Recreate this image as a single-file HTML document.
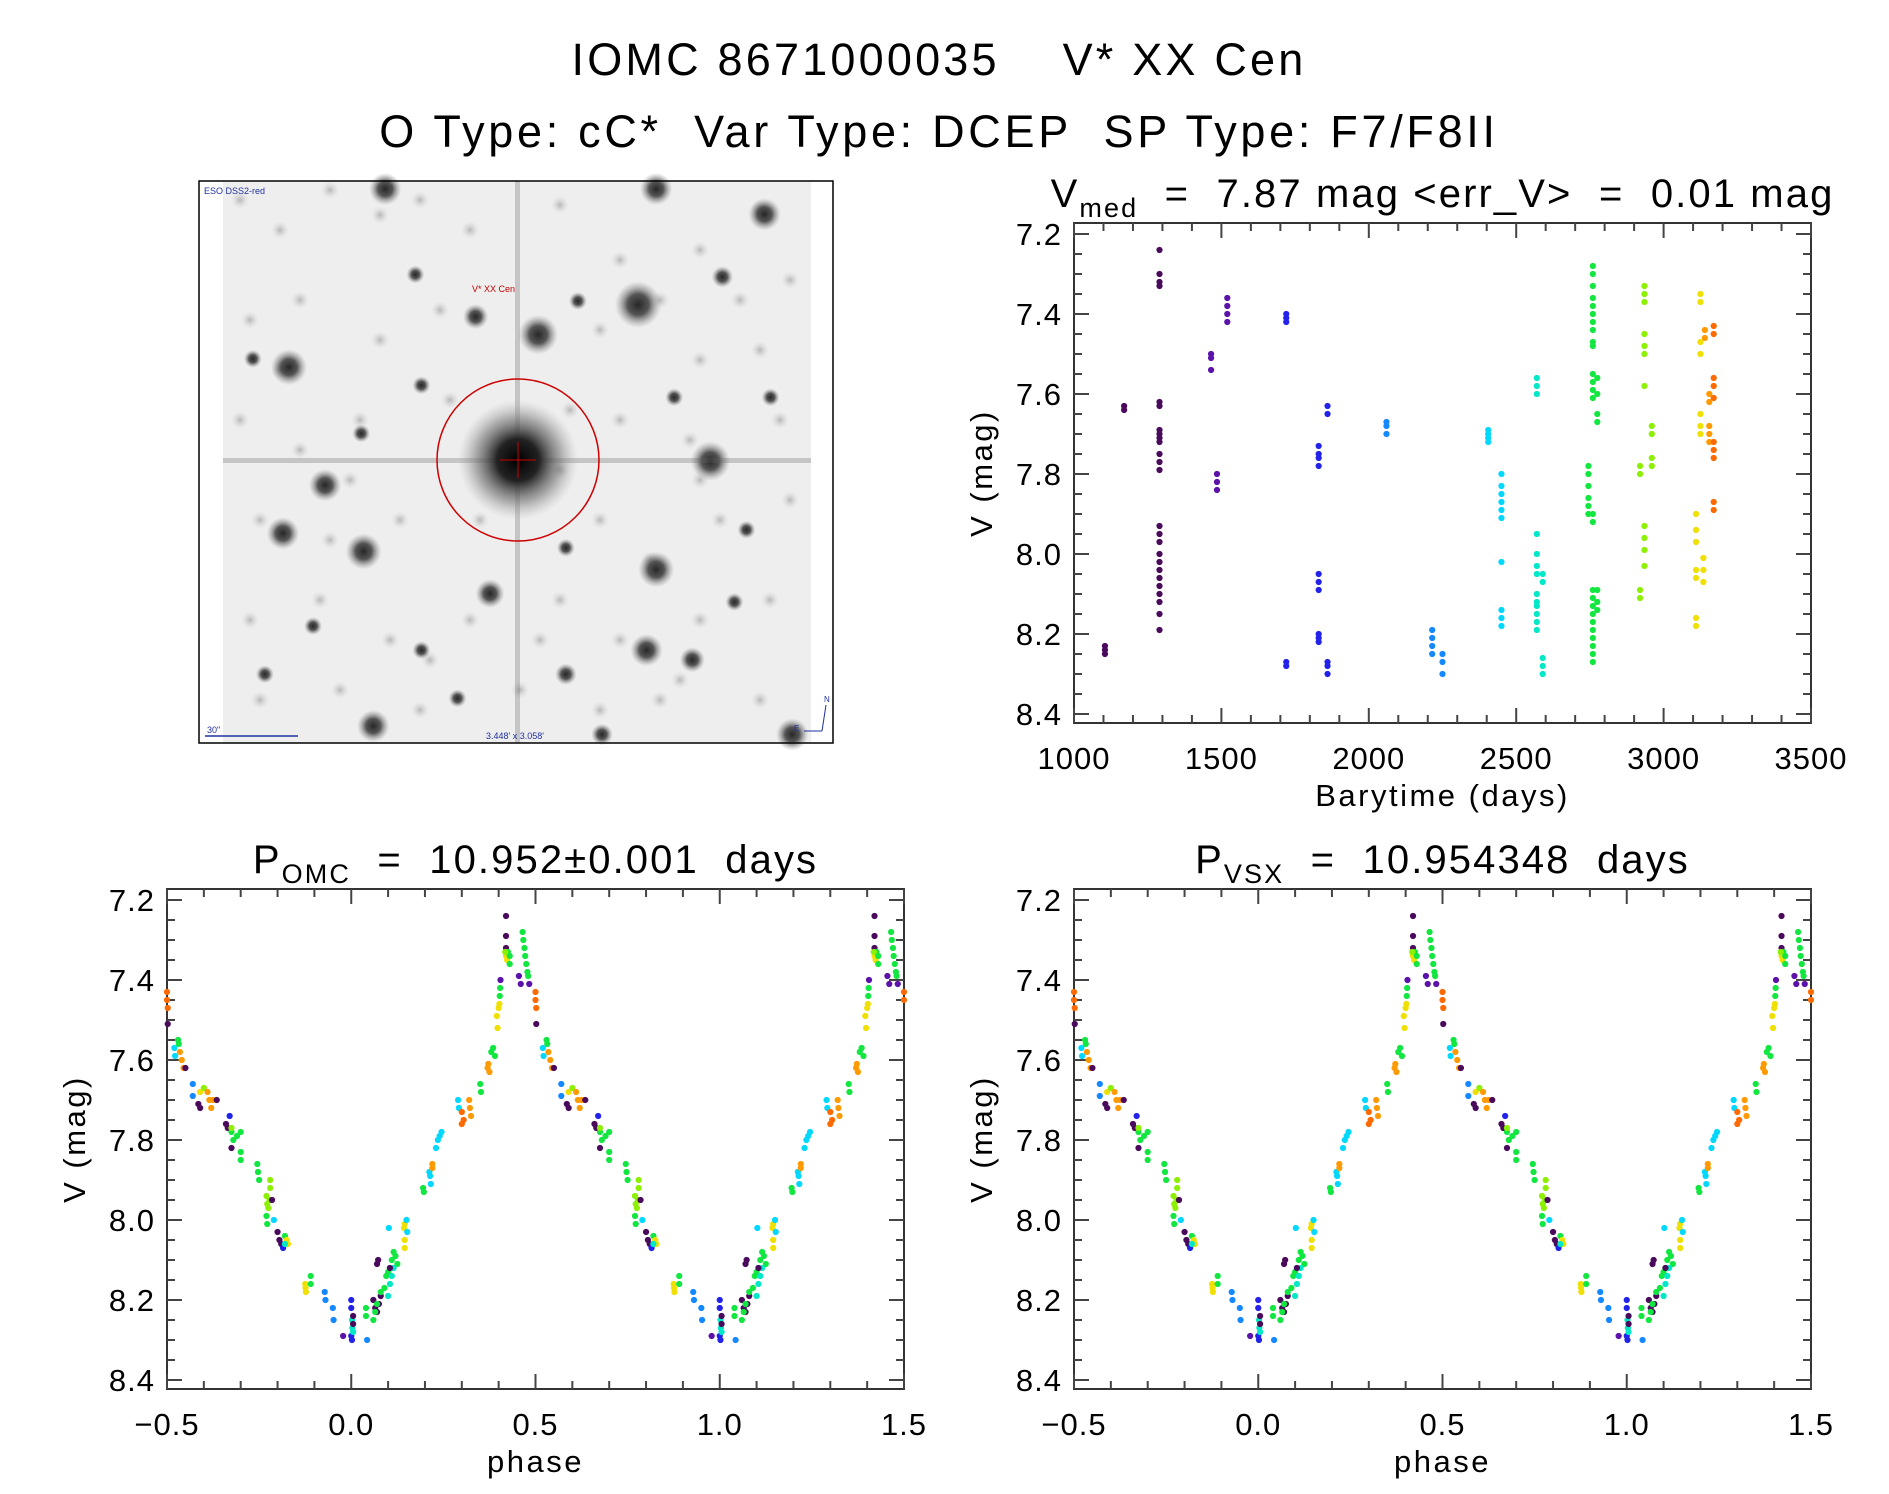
<!DOCTYPE html>
<html><head><meta charset="utf-8">
<style>
html,body{margin:0;padding:0;background:#fff;}
svg{display:block;font-family:"Liberation Sans","DejaVu Sans",sans-serif;}
</style></head>
<body>
<svg id="fig" width="1889" height="1494" viewBox="0 0 1889 1494" xmlns="http://www.w3.org/2000/svg">
<defs>
<radialGradient id="star" cx="50%" cy="50%" r="50%">
<stop offset="0" stop-color="#111"/><stop offset="0.45" stop-color="#444"/><stop offset="1" stop-color="#999" stop-opacity="0"/>
</radialGradient>
<radialGradient id="faint" cx="50%" cy="50%" r="50%">
<stop offset="0" stop-color="#888"/><stop offset="1" stop-color="#ccc" stop-opacity="0"/>
</radialGradient>
<radialGradient id="bigstar" cx="50%" cy="50%" r="50%">
<stop offset="0" stop-color="#000"/><stop offset="0.35" stop-color="#222"/><stop offset="0.7" stop-color="#777" stop-opacity="0.6"/><stop offset="1" stop-color="#aaa" stop-opacity="0"/>
</radialGradient>
</defs>
<text x="939" y="75" font-size="45" letter-spacing="3.2" text-anchor="middle" xml:space="preserve">IOMC 8671000035    V* XX Cen</text>
<text x="939" y="147" font-size="45" letter-spacing="3.7" text-anchor="middle" xml:space="preserve">O Type: cC*  Var Type: DCEP  SP Type: F7/F8II</text>
<g id="img"></g>
<g id="p1"></g>
<g id="p2"></g>
<g id="p3"></g>
</svg>
<script>
// ---- time series data ----
const obsTime = [1105,1105,1105,1170,1170,
1290,1290,1290,1290,1290,1290,1290,1290,1290,1290,1290,1290,1290,1290,1290,1290,1290,1290,1290,1290,1290,1290,1290,1290,1290,
1465,1465,1465,1485,1485,1485,1520,1520,1520,1520,
1720,1720,1720,1720,1720,
1830,1830,1830,1830,1830,1830,1830,1830,1830,1830,1860,1860,1860,1860,1860,
2060,2060,2060,2215,2215,2215,2215,2250,2250,2250,
2405,2405,2405,2405,
2450,2450,2450,2450,2450,2450,2450,2450,2450,2450,
2570,2570,2570,2570,2570,2570,2570,2570,2570,2570,2570,2570,2570,
2590,2590,2590,2590,2590,
2745,2745,2745,2745,2745,2745,
2760,2760,2760,2760,2760,2760,2760,2760,2760,2760,2760,2760,2760,2760,2760,2760,2760,2760,2760,2760,2760,2760,2760,2760,2760,2760,
2775,2775,2775,2775,2775,2775,2775,
2920,2920,2920,2920,
2935,2935,2935,2935,2935,2935,2935,2935,2935,2935,2935,
2960,2960,2960,2960,
3110,3110,3110,3110,3110,3110,3110,
3125,3125,3125,3125,3125,3125,3125,3135,3135,3135,3140,3140,
3155,3155,3155,3155,3155,
3170,3170,3170,3170,3170,3170,3170,3170,3170,3170];
const obsMag = [8.23,8.24,8.25,7.63,7.64,
7.24,7.30,7.32,7.33,7.62,7.63,7.69,7.70,7.71,7.72,7.75,7.77,7.79,7.93,7.95,7.97,8.00,8.02,8.04,8.06,8.08,8.10,8.12,8.15,8.19,
7.50,7.51,7.54,7.80,7.82,7.84,7.36,7.38,7.40,7.42,
7.40,7.41,7.42,8.27,8.28,
7.73,7.75,7.76,7.78,8.05,8.07,8.09,8.20,8.21,8.22,7.63,7.65,8.27,8.28,8.30,
7.67,7.68,7.70,8.19,8.21,8.23,8.25,8.25,8.27,8.30,
7.69,7.70,7.71,7.72,
7.80,7.83,7.85,7.87,7.89,7.91,8.02,8.14,8.16,8.18,
7.56,7.58,7.60,7.95,8.00,8.03,8.05,8.10,8.13,8.15,8.17,8.19,8.12,
8.05,8.07,8.26,8.28,8.30,
7.78,7.80,7.83,7.86,7.88,7.90,
7.28,7.30,7.33,7.36,7.38,7.40,7.42,7.44,7.47,7.48,7.55,7.57,7.59,7.61,7.90,7.92,8.09,8.11,8.13,8.15,8.17,8.19,8.21,8.23,8.25,8.27,
7.56,7.60,7.65,7.67,8.09,8.12,8.14,
7.78,7.80,8.09,8.11,
7.33,7.35,7.37,7.45,7.48,7.50,7.58,7.93,7.96,7.99,8.03,
7.68,7.70,7.76,7.78,
7.90,7.94,7.97,8.04,8.06,8.16,8.18,
7.35,7.37,7.47,7.50,7.65,7.68,7.70,8.01,8.04,8.07,7.44,7.46,
7.60,7.62,7.68,7.70,7.72,
7.43,7.45,7.56,7.58,7.61,7.72,7.74,7.76,7.87,7.89];
// ---- phase data (one cycle, colour class) ----
const phase = [0.000,0.000,0.000,0.002,0.002,0.003,0.005,0.005,0.005,0.950,0.952,0.928,0.930,0.978,
0.875,0.876,0.877,0.890,0.890,0.043,0.040,0.040,
0.060,0.065,0.070,0.075,0.080,0.060,0.065,0.070,0.080,0.073,0.070,
0.090,0.095,0.100,0.105,0.110,0.115,0.120,0.125,0.100,0.105,0.110,0.115,0.105,0.102,
0.145,0.143,0.145,0.145,0.150,0.152,0.195,0.197,0.212,0.214,0.216,0.220,0.220,
0.230,0.235,0.240,0.245,0.290,0.292,0.300,0.300,0.305,0.320,0.322,0.325,
0.350,0.352,0.370,0.372,0.375,0.380,0.385,0.390,
0.395,0.397,0.400,0.402,0.403,0.404,0.405,
0.420,0.420,0.420,0.420,0.423,0.425,0.430,0.430,0.418,0.455,0.460,
0.465,0.467,0.470,0.472,0.475,0.478,0.480,0.483,0.500,0.500,0.502,0.502,
0.520,0.522,0.530,0.532,0.535,0.540,0.545,0.550,
0.570,0.570,0.585,0.590,0.590,0.600,0.610,0.615,0.620,0.625,0.635,
0.660,0.665,0.670,0.675,0.680,0.690,0.700,0.675,0.675,0.700,0.700,
0.745,0.747,0.750,0.770,0.772,0.775,0.778,0.780,0.780,0.770,0.772,0.785,0.790,
0.800,0.805,0.810,0.815,0.820,0.825,0.828,0.820];
const phaseMag = [8.20,8.22,8.29,8.30,8.25,8.27,8.28,8.24,8.26,8.22,8.25,8.18,8.20,8.29,
8.16,8.17,8.18,8.14,8.16,8.30,8.22,8.24,
8.20,8.22,8.23,8.21,8.19,8.25,8.23,8.21,8.18,8.10,8.11,
8.17,8.14,8.13,8.12,8.10,8.08,8.09,8.11,8.19,8.16,8.14,8.12,8.12,8.02,
8.01,8.02,8.05,8.07,8.00,8.03,7.92,7.93,7.88,7.89,7.91,7.86,7.87,
7.82,7.80,7.79,7.78,7.70,7.72,7.73,7.76,7.75,7.70,7.72,7.74,
7.66,7.68,7.62,7.61,7.63,7.58,7.57,7.59,
7.49,7.52,7.47,7.46,7.44,7.42,7.40,
7.24,7.29,7.32,7.34,7.35,7.33,7.34,7.36,7.33,7.39,7.41,
7.28,7.30,7.32,7.34,7.36,7.38,7.39,7.41,7.43,7.45,7.47,7.51,
7.57,7.59,7.55,7.56,7.58,7.60,7.62,7.62,
7.66,7.69,7.71,7.72,7.68,7.67,7.68,7.70,7.72,7.70,7.70,
7.76,7.77,7.74,7.78,7.80,7.79,7.78,7.77,7.82,7.83,7.85,
7.86,7.88,7.90,7.94,7.96,7.97,7.95,7.92,7.90,7.99,8.01,7.95,8.00,
8.03,8.05,8.06,8.07,8.04,8.05,8.06,8.06];
const phaseCls = [2,2,2,2,5,5,5,0,0,3,3,3,3,1,
8,8,8,6,6,3,6,6,
0,0,0,0,0,6,6,6,6,0,0,
6,6,6,6,6,6,6,6,5,5,5,5,0,4,
8,8,8,8,4,4,6,6,4,4,4,9,9,
4,4,4,4,4,4,10,10,10,9,9,9,
6,6,9,9,9,6,6,6,
8,8,8,8,6,6,1,
0,0,0,8,8,6,6,6,7,1,1,
6,6,6,6,6,6,6,1,10,10,10,0,
4,4,6,6,9,9,9,0,
3,3,0,0,8,7,9,9,9,9,0,
0,0,2,6,6,6,6,7,0,6,6,
6,6,6,7,7,7,7,7,7,6,6,0,4,
0,0,0,2,6,8,8,5];
const yTicks = ["7.2","7.4","7.6","7.8","8.0","8.2","8.4"];
const tTicks = ["1000","1500","2000","2500","3000","3500"];
const pTicks = ["\u22120.5","0.0","0.5","1.0","1.5"];

const palette = ["#4a0a5c","#5a12a8","#2222e8","#1488ff","#00d8ff","#00e8c8","#12e640","#8cf000","#f0e000","#ff9a00","#ff6a00"];
function timeCls(t){
  const edges=[1400,1700,1950,2300,2500,2680,2880,3050,3138,3165];
  let c=0; while(c<edges.length && t>=edges[c]) c++; return c;
}
const NS="http://www.w3.org/2000/svg";
function mk(tag,attrs,parent){const e=document.createElementNS(NS,tag);for(const k in attrs)e.setAttribute(k,attrs[k]);parent.appendChild(e);return e;}

function panel(g,L,T,R,B,xmin,xmax,xMajor,xMinor,xLabels,title,xtitle){
  const ymin=7.2-11/400, ymax=8.4+9/400;
  const sx=v=>L+(v-xmin)/(xmax-xmin)*(R-L);
  const sy=v=>T+(v-ymin)/(ymax-ymin)*(B-T);
  const frame=mk('rect',{x:L,y:T,width:R-L,height:B-T,fill:'none',stroke:'#333','stroke-width':2},g);
  
  
  const ticks=mk('g',{stroke:'#444','stroke-width':2},g);
  
  
  for(let v=7.2;v<=8.4001;v+=0.05){
    const major=Math.abs(v*5-Math.round(v*5))<1e-6; const len=major?15:8; const y=sy(v);
    mk('line',{x1:L,y1:y,x2:L+len,y2:y},ticks); mk('line',{x1:R,y1:y,x2:R-len,y2:y},ticks);
  }
  for(let v=xmin;v<=xmax+1e-9;v+=xMinor){
    const major=Math.abs(v/xMajor-Math.round(v/xMajor))<1e-6; const len=major?15:8; const x=sx(v);
    mk('line',{x1:x,y1:B,x2:x,y2:B-len},ticks); mk('line',{x1:x,y1:T,x2:x,y2:T+len},ticks);
  }
  yTicks.forEach((s)=>{
    const t=mk('text',{x:L-12,y:sy(parseFloat(s))+11,'font-size':31,'letter-spacing':1,'text-anchor':'end'},g); t.textContent=s;
    
    
  });
  xLabels.forEach((s,i)=>{
    const t=mk('text',{x:sx(xmin+i*xMajor),y:B+46,'font-size':31,'letter-spacing':1,'text-anchor':'middle'},g); t.textContent=s;
    
    
  });
  const yt=mk('text',{x:0,y:0,'font-size':31,'letter-spacing':2.5,'text-anchor':'middle',transform:`translate(${L-82},${(T+B)/2}) rotate(-90)`},g);
  yt.textContent='V (mag)';
  
  
  const xt=mk('text',{x:(L+R)/2,y:B+83,'font-size':31,'letter-spacing':2.5,'text-anchor':'middle'},g);
  xt.textContent=xtitle;
  
  
  const tt=mk('text',{x:(L+R)/2,y:T-16,'font-size':40,'letter-spacing':2.1,'text-anchor':'middle'},g);
  tt.innerHTML=title;
  
  
  return {sx,sy};
}

// time series
(function(){
  const g=document.getElementById('p1');
  const {sx,sy}=panel(g,1074,223,1811,723,1000,3500,500,100,tTicks,
   'V<tspan font-size="27" dy="10">med</tspan><tspan dy="-10" xml:space="preserve">  =  7.87 mag &lt;err_V&gt;  =  0.01 mag</tspan>','Barytime (days)');
  const pts=mk('g',{},g);
  
  
  obsTime.forEach((t,i)=>{
    const c=mk('circle',{cx:sx(t),cy:sy(obsMag[i]),r:3.1,fill:palette[timeCls(t)]},pts);
    
    
  });
})();

function phasePanel(id,L,title){
  const g=document.getElementById(id);
  const {sx,sy}=panel(g,L,889,L+737,1389,-0.5,1.5,0.5,0.1,pTicks,title,'phase');
  const pts=mk('g',{},g);
  
  
  phase.forEach((p,i)=>{
    [p-1,p,p+1].forEach(q=>{
      if(q<-0.5||q>1.5) return;
      const c=mk('circle',{cx:sx(q),cy:sy(phaseMag[i]),r:3.1,fill:palette[phaseCls[i]]},pts);
      
      
    });
  });
}
phasePanel('p2',167,'P<tspan font-size="27" dy="10">OMC</tspan><tspan dy="-10" xml:space="preserve">  =  10.952±0.001  days</tspan>');
phasePanel('p3',1074,'P<tspan font-size="27" dy="10">VSX</tspan><tspan dy="-10" xml:space="preserve">  =  10.954348  days</tspan>');

// sky image
(function(){
  const g=document.getElementById('img');
  mk('rect',{x:223,y:181,width:588,height:562,fill:'#eeeeee'},g);
  const faint=[[240,200],[280,230],[330,190],[380,215],[420,200],[470,230],[560,205],[620,260],[660,300],[700,250],[760,210],[790,280],[250,320],[300,300],[380,340],[440,310],[600,330],[700,360],[760,350],[240,420],[300,450],[360,420],[620,420],[690,440],[780,420],[260,520],[330,540],[400,520],[600,520],[650,560],[720,520],[790,500],[250,620],[320,600],[390,640],[470,620],[560,600],[620,640],[700,620],[770,600],[260,700],[340,690],[420,710],[520,690],[600,710],[680,680],[760,700],[450,400],[570,410],[480,520],[560,470],[350,480],[700,480],[430,660],[540,640],[280,370],[740,300],[660,700]];
  const fg=mk('g',{},g);
  
  
  faint.forEach(f=>{mk('circle',{cx:f[0],cy:f[1],r:9,fill:'url(#faint)',opacity:0.55},fg);});
  const blobs=[[320,157,9],[545,157,9],[635,178,9],[530,253,13],[447,278,11],[395,263,7],[590,383,11],[270,403,9],[240,305,10],[235,443,9],[302,458,10],[545,473,10],[407,493,8],[537,540,9],[310,603,9],[658,610,9],[575,548,7],[210,298,5],[345,228,5],[600,230,6],[480,250,5],[350,320,5],[260,520,5],[470,560,6],[610,500,5],[640,330,5],[300,360,5],[220,560,5],[380,580,5],[500,610,6],[620,440,5],[470,455,5],[350,540,5],[560,330,5]];
  const stars=mk('g',{},g);
  
  
  blobs.forEach(b=>{mk('circle',{cx:b[0]*1.204,cy:b[1]*1.204,r:b[2]*1.204*1.5,fill:'url(#star)',opacity:0.9},stars);});
  mk('rect',{x:223,y:458,width:588,height:5,fill:'#666',opacity:0.3},g);
  mk('rect',{x:515,y:181,width:5,height:562,fill:'#666',opacity:0.3},g);
  mk('circle',{cx:518,cy:460,r:60,fill:'url(#bigstar)'},g);
  mk('circle',{cx:518,cy:460,r:81,fill:'none',stroke:'#c00','stroke-width':1.5},g);
  mk('line',{x1:500,y1:460,x2:536,y2:460,stroke:'#c00','stroke-width':1},g);
  mk('line',{x1:518,y1:442,x2:518,y2:478,stroke:'#c00','stroke-width':1},g);
  mk('rect',{x:199,y:181,width:634,height:562,fill:'none',stroke:'#000','stroke-width':1.5},g);
  const t1=mk('text',{x:204,y:194,'font-size':9,fill:'#2030a0'},g); t1.textContent='ESO DSS2-red';
  
  
  const t2=mk('text',{x:472,y:292,'font-size':9,fill:'#c00000'},g); t2.textContent='V* XX Cen';
  
  
  mk('line',{x1:205,y1:736,x2:298,y2:736,stroke:'#2030a0','stroke-width':1.5},g);
  const t3=mk('text',{x:207,y:733,'font-size':9,fill:'#2030a0'},g); t3.textContent='30"';
  
  
  const t4=mk('text',{x:515,y:739,'font-size':9,fill:'#2030a0','text-anchor':'middle'},g); t4.textContent="3.448' x 3.058'";
  
  
  mk('line',{x1:804,y1:731,x2:822,y2:731,stroke:'#2030a0','stroke-width':1},g);
  mk('line',{x1:822,y1:731,x2:826,y2:705,stroke:'#2030a0','stroke-width':1},g);
  const t5=mk('text',{x:824,y:702,'font-size':8,fill:'#2030a0'},g); t5.textContent='N';
  
  
  const t6=mk('text',{x:794,y:731,'font-size':8,fill:'#2030a0'},g); t6.textContent='E';
  
  
})();
</script>
</body></html>
